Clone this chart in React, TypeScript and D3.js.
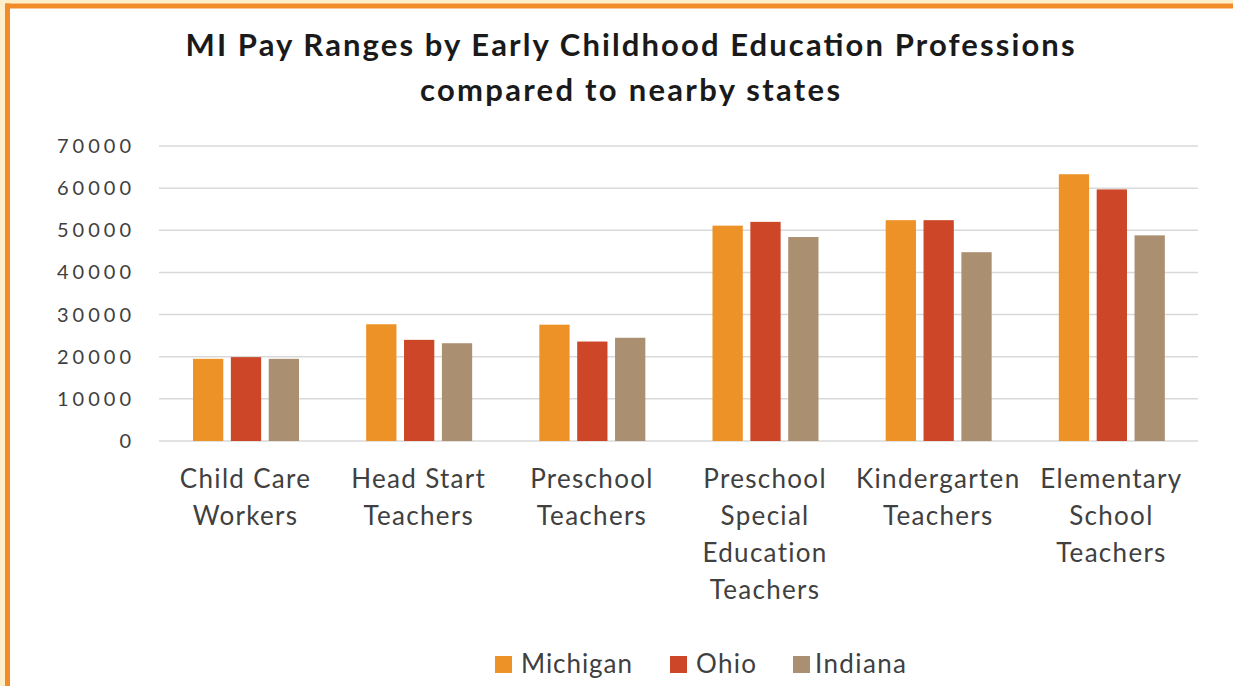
import React from "react";
import * as d3 from "d3";

const categories = [
  ["Child Care", "Workers"],
  ["Head Start", "Teachers"],
  ["Preschool", "Teachers"],
  ["Preschool", "Special", "Education", "Teachers"],
  ["Kindergarten", "Teachers"],
  ["Elementary", "School", "Teachers"],
];
const seriesNames = ["Michigan", "Ohio", "Indiana"];
const michigan = [19500, 27700, 27600, 51100, 52400, 63300];
const ohio = [19900, 24000, 23600, 52000, 52400, 59700];
const indiana = [19500, 23200, 24500, 48400, 44800, 48800];
const yTicks = [0, 10000, 20000, 30000, 40000, 50000, 60000, 70000];
const colors = ["#EC9226", "#CD4628", "#AA9070"];

const W = 1233;
const H = 686;
const FONT = "Lato, 'Open Sans', sans-serif";

export default function App() {
  const values = [michigan, ohio, indiana];
  const x = d3
    .scaleBand<number>()
    .domain(categories.map((_, i) => i))
    .range([159, 1198]);
  const y = d3.scaleLinear().domain([0, 70000]).range([441, 146]);
  const inner = d3
    .scaleBand<number>()
    .domain([0, 1, 2])
    .range([34, 140])
    .paddingInner(0.2);
  const legendX = [495, 670, 793];
  const legendTextW = [111, 60, 91];

  return (
    <svg
      width={W}
      height={H}
      style={{ position: "absolute", left: 0, top: 0, background: "#fff" }}
    >
      {/* frame */}
      <rect x={0} y={0} width={W} height={3.5} fill="#FFEFC8" />
      <rect x={0} y={0} width={5} height={H} fill="#FFEFC8" />
      <rect x={5} y={3.5} width={W} height={5} fill="#F28C28" />
      <rect x={5} y={3.5} width={5} height={H} fill="#F28C28" />

      {/* title */}
      <text
        x={630}
        y={56}
        textAnchor="middle"
        fontFamily={FONT}
        fontWeight="bold"
        fontSize={31}
        fill="#1a1a1a"
        textLength={889}
        lengthAdjust="spacing"
      >
        MI Pay Ranges by Early Childhood Education Professions
      </text>
      <text
        x={630}
        y={101}
        textAnchor="middle"
        fontFamily={FONT}
        fontWeight="bold"
        fontSize={31}
        fill="#1a1a1a"
        textLength={420}
        lengthAdjust="spacing"
      >
        compared to nearby states
      </text>

      {/* gridlines and y labels */}
      {yTicks.map((t) => (
        <g key={t}>
          <line
            x1={159}
            x2={1198}
            y1={y(t)}
            y2={y(t)}
            stroke="#D9D9D9"
            strokeWidth={1.5}
          />
          <text
            x={131}
            y={y(t) + 7}
            textAnchor="end"
            fontFamily={FONT}
            fontSize={20}
            fill="#404040"
            textLength={String(t).length * 15.2 - 2}
            lengthAdjust="spacing"
          >
            {t}
          </text>
        </g>
      ))}

      {/* bars */}
      {categories.map((_, ci) => (
        <g key={ci} transform={`translate(${x(ci)},0)`}>
          {values.map((s, si) => (
            <rect
              key={si}
              x={inner(si)}
              width={inner.bandwidth()}
              y={y(s[ci])}
              height={y(0) - y(s[ci])}
              fill={colors[si]}
            />
          ))}
        </g>
      ))}

      {/* category labels */}
      {categories.map((lines, ci) =>
        lines.map((l, li) => (
          <text
            key={ci + "-" + li}
            x={(x(ci) ?? 0) + x.bandwidth() / 2}
            y={488 + li * 37}
            fontFamily={FONT}
            fontSize={26}
            letterSpacing={1.3}
            fill="#404040"
            textAnchor="middle"
          >
            {l}
          </text>
        ))
      )}

      {/* legend */}
      {seriesNames.map((n, i) => {
        const lx = legendX[i];
        return (
          <g key={n}>
            <rect x={lx} y={656} width={17} height={17} fill={colors[i]} />
            <text
              x={lx + (i === 2 ? 22 : 26)}
              y={673}
              fontFamily={FONT}
              fontSize={26}
              fill="#404040"
              textLength={legendTextW[i]}
              lengthAdjust="spacing"
            >
              {n}
            </text>
          </g>
        );
      })}
    </svg>
  );
}
